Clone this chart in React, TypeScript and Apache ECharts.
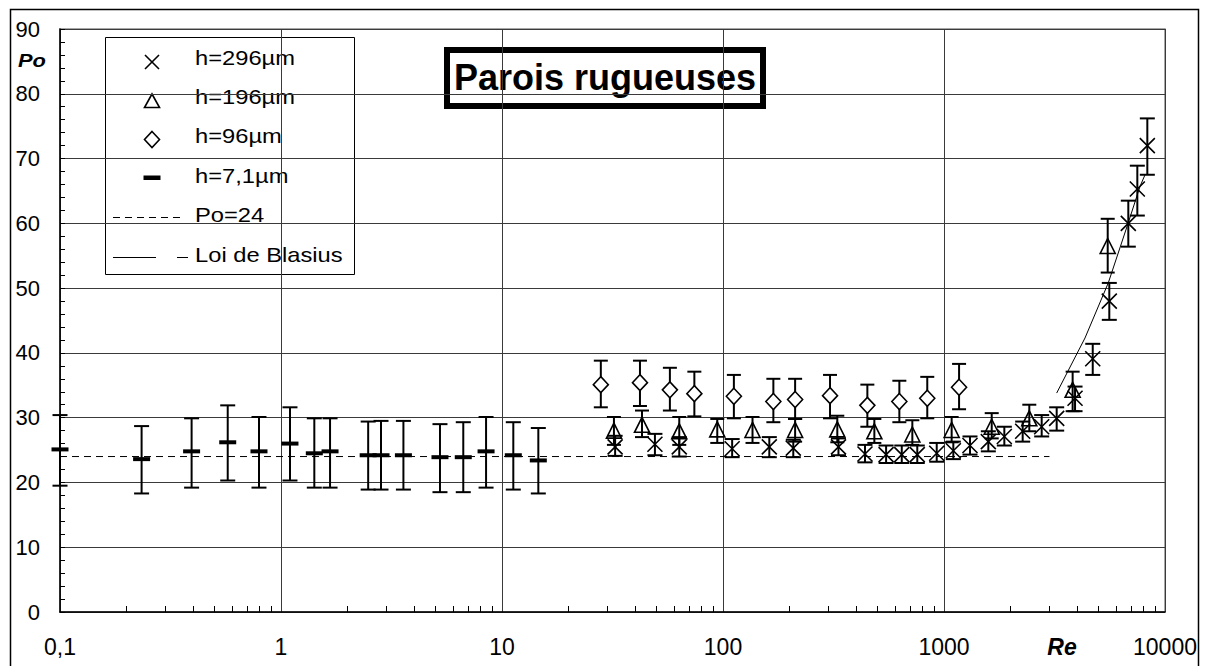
import React, { useEffect, useRef } from 'react';
import * as echarts from 'echarts';

// ---- axis ticks ----
const xTickValues = [0.1, 1, 10, 100, 1000, 10000];
const xTickLabels = ['0,1', '1', '10', '100', '1000', '10000'];
const xMinorTicks = [
  0.2, 0.3, 0.4, 0.5, 0.6, 0.7, 0.8, 0.9,
  2, 3, 4, 5, 6, 7, 8, 9,
  20, 30, 40, 50, 60, 70, 80, 90,
  200, 300, 400, 500, 600, 700, 800, 900,
  2000, 3000, 4000, 5000, 6000, 7000, 8000, 9000,
];

// ---- h = 296 µm (crosses) ----
const re296 = [32.5, 49.2, 63.4, 110, 162, 208, 333, 439, 547, 644, 757, 927, 1102, 1311, 1587, 1875, 2270, 2767, 3235, 3917, 4710, 5597, 6823, 7495, 8318];
const po296 = [25.5, 25.9, 25.5, 25.2, 25.5, 25.3, 25.5, 24.4, 24.3, 24.3, 24.3, 24.5, 24.9, 25.7, 26.3, 27.1, 27.9, 28.6, 29.9, 33.0, 39.1, 48.0, 60.0, 65.3, 72.0];
const lo296 = [24.1, 24.2, 24.0, 23.9, 23.9, 23.9, 24.2, 23.1, 23.0, 23.0, 23.0, 23.2, 23.6, 24.3, 24.8, 25.7, 26.3, 27.1, 28.0, 31.0, 36.6, 45.1, 56.4, 61.2, 67.5];
const hi296 = [27.2, 27.5, 27.0, 26.7, 27.0, 26.6, 26.8, 25.8, 25.7, 25.7, 25.7, 26.1, 26.3, 27.1, 27.9, 28.6, 29.4, 30.4, 31.6, 34.8, 41.4, 50.8, 63.5, 68.9, 76.2];

// ---- h = 196 µm (triangles) ----
const re196 = [32.1, 43.0, 63.4, 94.2, 136, 212, 329, 484, 719, 1083, 1644, 2432, 3820, 5505];
const po196 = [28.0, 28.9, 27.9, 28.2, 28.1, 28.1, 28.2, 27.9, 27.4, 28.1, 28.6, 29.9, 34.3, 56.5];
const lo196 = [25.8, 27.0, 25.8, 26.1, 26.1, 26.3, 26.2, 26.1, 25.8, 26.2, 26.8, 27.9, 31.0, 52.4];
const hi196 = [30.1, 31.1, 30.1, 29.8, 30.1, 29.8, 30.3, 29.8, 29.6, 30.1, 30.7, 32.0, 37.1, 60.7];

// ---- h = 96 µm (diamonds) ----
const re96 = [28.0, 42.1, 57.5, 74.2, 112, 169, 212, 305, 450, 628, 840, 1170];
const po96 = [35.1, 35.4, 34.3, 33.7, 33.3, 32.5, 32.8, 33.4, 31.9, 32.5, 33.0, 34.7];
const lo96 = [31.6, 31.8, 31.1, 30.2, 29.9, 29.3, 29.8, 29.9, 28.6, 29.3, 29.9, 31.3];
const hi96 = [38.8, 38.8, 37.7, 37.1, 36.6, 36.0, 36.0, 36.6, 35.1, 35.7, 36.3, 38.3];

// ---- h = 7,1 µm (dashes) ----
const re7 = [0.1, 0.234, 0.394, 0.574, 0.795, 1.098, 1.415, 1.667, 2.48, 2.835, 3.58, 5.24, 6.68, 8.47, 11.25, 14.6];
const po7 = [25.1, 23.6, 24.8, 26.2, 24.8, 26.0, 24.5, 24.8, 24.2, 24.2, 24.2, 23.9, 23.9, 24.8, 24.2, 23.4];
const lo7 = [19.5, 18.3, 19.2, 20.3, 19.2, 20.3, 19.2, 19.2, 18.9, 18.9, 18.9, 18.5, 18.5, 19.2, 18.9, 18.3];
const hi7 = [30.4, 28.7, 29.9, 31.9, 30.1, 31.6, 29.9, 29.9, 29.4, 29.5, 29.5, 29.0, 29.3, 30.1, 29.3, 28.4];

// ---- Po = 24 ----
const rePo24 = [0.1, 3000];
const poPo24 = [24, 24];

// ---- Loi de Blasius ----
const reBlasius = [3235, 4345, 5538, 6823, 7709, 8121];
const poBlasius = [33.8, 42.3, 50.8, 60.1, 65.7, 67.5];

const FONT = '"Liberation Sans", Arial, sans-serif';

const zip2 = (a: number[], b: number[]) => a.map((v, i) => [v, b[i]]);
const zip4 = (a: number[], b: number[], c: number[], d: number[]) => a.map((v, i) => [v, b[i], c[i], d[i]]);

const errorBars = (data: number[][], capHalf: number, lw: number) => ({
  type: 'custom',
  xAxisIndex: 0,
  yAxisIndex: 0,
  z: 2,
  clip: false,
  silent: true,
  data,
  renderItem: (_params: any, api: any) => {
    const x = api.value(0);
    const lo = api.value(2);
    const hi = api.value(3);
    const pHi = api.coord([x, hi]);
    const pLo = api.coord([x, lo]);
    const style = { stroke: '#000', lineWidth: lw };
    return {
      type: 'group',
      children: [
        { type: 'line', shape: { x1: pHi[0], y1: pHi[1], x2: pLo[0], y2: pLo[1] }, style },
        { type: 'line', shape: { x1: pHi[0] - capHalf, y1: pHi[1], x2: pHi[0] + capHalf, y2: pHi[1] }, style },
        { type: 'line', shape: { x1: pLo[0] - capHalf, y1: pLo[1], x2: pLo[0] + capHalf, y2: pLo[1] }, style },
      ],
    };
  },
});

const legendRows = [
  { label: 'h=296µm', y: 57.6 },
  { label: 'h=196µm', y: 96.6 },
  { label: 'h=96µm', y: 135.8 },
  { label: 'h=7,1µm', y: 175.6 },
  { label: 'Po=24', y: 214.6 },
  { label: 'Loi de Blasius', y: 254.6 },
];

export default function App() {
  const ref = useRef<HTMLDivElement>(null);

  useEffect(() => {
    if (!ref.current) return;
    const chart = echarts.init(ref.current, null, { renderer: 'svg' });

    const option: any = {
      animation: false,
      backgroundColor: '#ffffff',
      textStyle: { fontFamily: FONT, color: '#000' },
      grid: {
        left: 60,
        right: 42,
        top: 29,
        bottom: 54,
        show: true,
        borderColor: '#8a8a8a',
        borderWidth: 1.5,
        backgroundColor: 'transparent',
        containLabel: false,
      },
      xAxis: [
        {
          type: 'log',
          logBase: 10,
          min: 0.1,
          max: 10000,
          position: 'bottom',
          axisLine: { show: true, onZero: false, lineStyle: { color: '#000', width: 1.5 } },
          axisTick: { show: false },
          splitLine: { show: true, lineStyle: { color: '#3a3a3a', width: 1 } },
          axisLabel: {
            show: true,
            fontSize: 23,
            color: '#000',
            fontFamily: FONT,
            margin: 23,
            formatter: (v: number) => {
              const idx = xTickValues.findIndex((t) => Math.abs(Math.log10(t) - Math.log10(v)) < 1e-6);
              return idx >= 0 ? xTickLabels[idx] : '';
            },
          },
        },
        {
          type: 'log',
          logBase: 10,
          min: 0.1,
          max: 10000,
          position: 'bottom',
          axisLine: { show: false },
          axisLabel: { show: false },
          splitLine: { show: false },
          axisTick: {
            show: true,
            inside: true,
            length: 6,
            customValues: xMinorTicks,
            lineStyle: { color: '#000', width: 1 },
          },
        },
      ],
      yAxis: {
        type: 'value',
        min: 0,
        max: 90,
        interval: 10,
        axisLine: { show: true, onZero: false, lineStyle: { color: '#000', width: 1.5 } },
        axisTick: { show: true, inside: true, length: 5, lineStyle: { color: '#000' } },
        minorTick: { show: true, splitNumber: 5, length: 5, lineStyle: { color: '#000' } },
        splitLine: { show: true, lineStyle: { color: '#3a3a3a', width: 1 } },
        axisLabel: { fontSize: 22, color: '#000', fontFamily: FONT, margin: 20 },
      },
      series: [
        {
          name: 'Po=24',
          type: 'line',
          z: 1,
          data: zip2(rePo24, poPo24),
          symbol: 'none',
          lineStyle: { color: '#000', width: 1, type: [7, 5] },
          silent: true,
        },
        {
          name: 'Loi de Blasius',
          type: 'line',
          z: 1,
          data: zip2(reBlasius, poBlasius),
          symbol: 'none',
          lineStyle: { color: '#000', width: 1 },
          silent: true,
        },
        errorBars(zip4(re7, po7, lo7, hi7), 7.5, 2),
        errorBars(zip4(re96, po96, lo96, hi96), 7, 2),
        errorBars(zip4(re196, po196, lo196, hi196), 7, 2),
        errorBars(zip4(re296, po296, lo296, hi296), 7.5, 2),
        {
          name: 'h=7,1µm',
          type: 'scatter',
          z: 3,
          clip: false,
          data: zip2(re7, po7),
          symbol: 'rect',
          symbolSize: [17, 4],
          itemStyle: { color: '#000', opacity: 1 },
          silent: true,
        },
        {
          name: 'h=96µm',
          type: 'scatter',
          z: 3,
          clip: false,
          data: zip2(re96, po96),
          symbol: 'diamond',
          symbolSize: [15, 16],
          itemStyle: { color: '#fff', borderColor: '#000', borderWidth: 1.6, opacity: 1 },
          silent: true,
        },
        {
          name: 'h=196µm',
          type: 'scatter',
          z: 3,
          clip: false,
          data: zip2(re196, po196),
          symbol: 'triangle',
          symbolSize: [15, 15],
          itemStyle: { color: 'transparent', borderColor: '#000', borderWidth: 1.6, opacity: 1 },
          silent: true,
        },
        {
          name: 'h=296µm',
          type: 'scatter',
          z: 3,
          clip: false,
          data: zip2(re296, po296),
          symbol: 'path://M0,0L10,10M10,0L0,10',
          symbolSize: 15,
          itemStyle: { color: 'transparent', borderColor: '#000', borderWidth: 1.6, opacity: 1 },
          silent: true,
        },
      ],
      graphic: [
        // outer chart frame
        {
          type: 'rect',
          z: 0,
          silent: true,
          shape: { x: 10.5, y: 9.5, width: 1188, height: 700 },
          style: { fill: 'none', stroke: '#000', lineWidth: 1.5 },
        },
        // legend box
        {
          type: 'group',
          z: 10,
          silent: true,
          children: [
            {
              type: 'rect',
              shape: { x: 105.5, y: 37.5, width: 249, height: 237 },
              style: { fill: '#fff', stroke: '#000', lineWidth: 1 },
            },
            // cross
            { type: 'line', shape: { x1: 145, y1: 55, x2: 159, y2: 69 }, style: { stroke: '#000', lineWidth: 1.6 } },
            { type: 'line', shape: { x1: 145, y1: 69, x2: 159, y2: 55 }, style: { stroke: '#000', lineWidth: 1.6 } },
            // triangle
            {
              type: 'polygon',
              shape: { points: [[152, 94], [144.5, 107.5], [159.5, 107.5]] },
              style: { fill: 'none', stroke: '#000', lineWidth: 1.6 },
            },
            // diamond
            {
              type: 'polygon',
              shape: { points: [[152, 131.5], [159.5, 139.5], [152, 147.5], [144.5, 139.5]] },
              style: { fill: '#fff', stroke: '#000', lineWidth: 1.6 },
            },
            // dash
            { type: 'rect', shape: { x: 143.5, y: 175.5, width: 17, height: 4.5 }, style: { fill: '#000' } },
            // Po=24 dashed
            {
              type: 'line',
              shape: { x1: 113, y1: 217.5, x2: 184, y2: 217.5 },
              style: { stroke: '#000', lineWidth: 1, lineDash: [7, 5] },
            },
            // Blasius
            { type: 'line', shape: { x1: 113, y1: 257.5, x2: 156, y2: 257.5 }, style: { stroke: '#000', lineWidth: 1 } },
            { type: 'line', shape: { x1: 177, y1: 257.5, x2: 188, y2: 257.5 }, style: { stroke: '#000', lineWidth: 1 } },
            ...legendRows.map((r) => ({
              type: 'text',
              x: 195,
              y: r.y,
              scaleX: 1.13,
              style: {
                text: r.label,
                fontSize: 21,
                fontFamily: FONT,
                fill: '#000',
                textAlign: 'left',
                textVerticalAlign: 'middle',
              },
            })),
          ],
        },
        // title box
        {
          type: 'group',
          z: 10,
          silent: true,
          children: [
            {
              type: 'rect',
              shape: { x: 447, y: 50, width: 316, height: 56 },
              style: { fill: '#fff', stroke: '#000', lineWidth: 6 },
            },
            {
              type: 'text',
              x: 605,
              y: 77.5,
              style: {
                text: 'Parois rugueuses',
                fontSize: 36,
                fontWeight: 'bold',
                fontFamily: FONT,
                fill: '#000',
                textAlign: 'center',
                textVerticalAlign: 'middle',
              },
            },
          ],
        },
        // axis names
        {
          type: 'text',
          z: 10,
          silent: true,
          x: 18,
          y: 60.5,
          scaleX: 1.15,
          style: {
            text: 'Po',
            fontSize: 19,
            fontWeight: 'bold',
            fontStyle: 'italic',
            fontFamily: FONT,
            fill: '#000',
            textAlign: 'left',
            textVerticalAlign: 'middle',
          },
        },
        {
          type: 'text',
          z: 10,
          silent: true,
          x: 1062,
          y: 647,
          style: {
            text: 'Re',
            fontSize: 23,
            fontWeight: 'bold',
            fontStyle: 'italic',
            fontFamily: FONT,
            fill: '#000',
            textAlign: 'center',
            textVerticalAlign: 'middle',
          },
        },
      ],
    };

    chart.setOption(option);
    return () => {
      chart.dispose();
    };
  }, []);

  return (
    <div
      ref={ref}
      style={{ position: 'fixed', left: 0, top: 0, width: 1207, height: 666, background: '#fff' }}
    />
  );
}
